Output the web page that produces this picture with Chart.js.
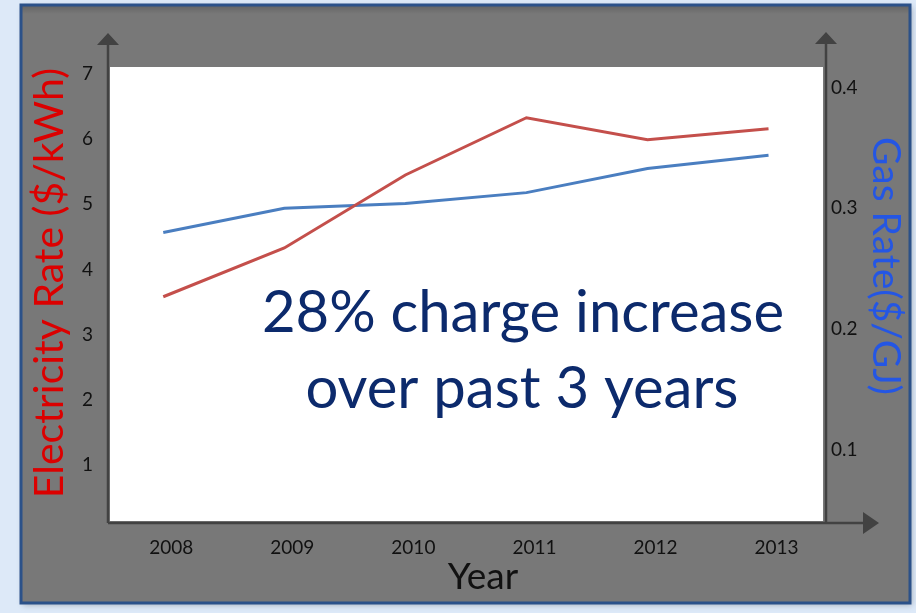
<!DOCTYPE html>
<html lang="en">
<head>
<meta charset="UTF-8" />
<title>Electricity and Gas Rates</title>
<style>
  body { margin: 0; background: #dde9f8; }
  canvas { display: block; }
</style>
<script src="https://cdn.jsdelivr.net/npm/chart.js"></script>
</head>
<body>
<canvas id="rates" width="916" height="613"></canvas>
<script>
  const years = [2008, 2009, 2010, 2011, 2012, 2013];
  const electricityRate = [3.58, 4.33, 5.45, 6.33, 5.99, 6.16];
  const gasRate = [0.280, 0.300, 0.304, 0.313, 0.333, 0.344];
  const electricityTicks = [1, 2, 3, 4, 5, 6, 7];
  const gasTicks = [0.1, 0.2, 0.3, 0.4];
  const note = ["28% charge increase", "over past 3 years"];
  const titles = { x: "Year", left: "Electricity Rate ($/kWh)", right: "Gas Rate($/GJ)" };

  const FONT = "Lato, 'Open Sans', sans-serif";

  // grey slide panel behind the plot, white plot area on top
  const panel = {
    id: "panel",
    beforeDraw(chart) {
      const ctx = chart.ctx;
      const a = chart.chartArea;
      ctx.save();
      ctx.fillStyle = "#dde9f8";
      ctx.fillRect(0, 0, chart.width, chart.height);

      ctx.shadowColor = "rgba(0,0,0,0.25)";
      ctx.shadowBlur = 6;
      ctx.shadowOffsetX = 2;
      ctx.shadowOffsetY = 2;
      ctx.fillStyle = "#787878";
      ctx.fillRect(21, 5, 889, 598);
      ctx.shadowColor = "transparent";

      const g = ctx.createLinearGradient(0, 5, 0, 14);
      g.addColorStop(0, "rgba(0,0,0,0.18)");
      g.addColorStop(1, "rgba(0,0,0,0)");
      ctx.fillStyle = g;
      ctx.fillRect(21, 5, 889, 9);

      ctx.strokeStyle = "#2b5189";
      ctx.lineWidth = 3;
      ctx.strokeRect(21, 5, 889, 598);

      ctx.fillStyle = "#ffffff";
      ctx.fillRect(a.left, a.top, a.right - a.left, a.bottom - a.top);
      ctx.restore();
    }
  };

  // axis lines with arrow heads, axis titles and the text note
  const arrows = {
    id: "arrows",
    afterDraw(chart) {
      const ctx = chart.ctx;
      const a = chart.chartArea;
      const lx = a.left - 2, rx = a.right + 3, by = a.bottom + 2;
      ctx.save();
      ctx.strokeStyle = "#424242";
      ctx.fillStyle = "#424242";
      ctx.lineWidth = 2.5;

      ctx.beginPath();
      ctx.moveTo(lx, by); ctx.lineTo(lx, 44);
      ctx.moveTo(rx, by); ctx.lineTo(rx, 43);
      ctx.moveTo(lx, by); ctx.lineTo(a.right + 42, by);
      ctx.stroke();

      ctx.beginPath();
      ctx.moveTo(lx - 11, 45); ctx.lineTo(lx + 11, 45); ctx.lineTo(lx, 33); ctx.closePath();
      ctx.moveTo(rx - 11, 44); ctx.lineTo(rx + 11, 44); ctx.lineTo(rx, 32); ctx.closePath();
      ctx.moveTo(a.right + 40, by - 11); ctx.lineTo(a.right + 40, by + 11); ctx.lineTo(a.right + 56, by); ctx.closePath();
      ctx.fill();

      ctx.textAlign = "center";
      ctx.textBaseline = "middle";

      ctx.fillStyle = "#111";
      ctx.font = "37px " + FONT;
      ctx.fillText(titles.x, 483, 577);

      ctx.save();
      ctx.translate(50, 283);
      ctx.rotate(-Math.PI / 2);
      ctx.fillStyle = "#dc0000";
      ctx.font = "41px " + FONT;
      ctx.fillText(titles.left, 0, 0);
      ctx.restore();

      ctx.save();
      ctx.translate(886, 266);
      ctx.rotate(Math.PI / 2);
      ctx.fillStyle = "#2456e4";
      ctx.font = "39px " + FONT;
      ctx.fillText(titles.right, 0, 0);
      ctx.restore();

      ctx.fillStyle = "#0c2a6c";
      ctx.font = "58px " + FONT;
      ctx.textBaseline = "alphabetic";
      ctx.fillText(note[0], a.left + 413, a.top + 265);
      ctx.fillText(note[1], a.left + 412, a.top + 341);
      ctx.restore();
    }
  };

  const tickFont = { family: FONT, size: 19 };

  new Chart(document.getElementById("rates"), {
    type: "line",
    data: {
      datasets: [
        {
          label: "Electricity Rate",
          data: years.map((y, i) => ({ x: y, y: electricityRate[i] })),
          borderColor: "#c44f4b",
          borderWidth: 3,
          pointRadius: 0,
          tension: 0,
          yAxisID: "y"
        },
        {
          label: "Gas Rate",
          data: years.map((y, i) => ({ x: y, y: gasRate[i] })),
          borderColor: "#4a7ec0",
          borderWidth: 3,
          pointRadius: 0,
          tension: 0,
          yAxisID: "y1"
        }
      ]
    },
    options: {
      responsive: false,
      animation: false,
      layout: { padding: { left: 22, right: 4, top: 67, bottom: 10 } },
      plugins: { legend: { display: false }, tooltip: { enabled: false } },
      scales: {
        x: {
          type: "linear",
          min: 2007.56,
          max: 2013.45,
          grid: { display: false },
          border: { display: false },
          afterBuildTicks: (s) => { s.ticks = years.map((v) => ({ value: v })); },
          afterFit: (s) => { s.height = 82; },
          ticks: {
            font: tickFont,
            color: "#111",
            padding: 7,
            labelOffset: 8,
            callback: (v) => String(v)
          }
        },
        y: {
          position: "left",
          min: 0.135,
          max: 7.109,
          grid: { display: false },
          border: { display: false },
          afterBuildTicks: (s) => { s.ticks = electricityTicks.map((v) => ({ value: v })); },
          afterFit: (s) => { s.width = 88; },
          ticks: { font: tickFont, color: "#111", padding: 9 }
        },
        y1: {
          position: "right",
          min: 0.0414,
          max: 0.4169,
          grid: { display: false },
          border: { display: false },
          afterBuildTicks: (s) => { s.ticks = gasTicks.map((v) => ({ value: v })); },
          afterFit: (s) => { s.width = 89; },
          ticks: { font: tickFont, color: "#111", padding: 0 }
        }
      }
    },
    plugins: [panel, arrows]
  });
</script>
</body>
</html>
